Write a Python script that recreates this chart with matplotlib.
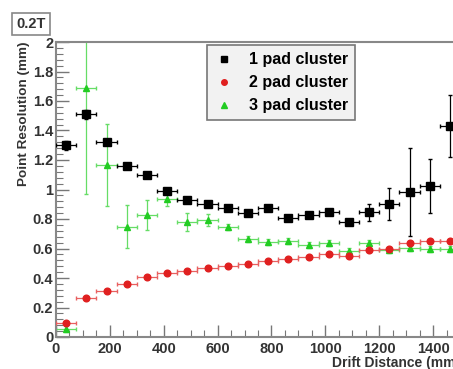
import numpy as np
from matplotlib import pyplot as plt
from matplotlib.ticker import MultipleLocator
from matplotlib.lines import Line2D

plt.rcParams['font.family'] = ['Liberation Sans', 'DejaVu Sans']

# bin centres (mm)
drift = np.arange(37.5, 1500, 75.0)

one_pad = [1.30, 1.51, 1.32, 1.16, 1.10, 0.99, 0.93, 0.90, 0.877, 0.843,
           0.877, 0.807, 0.825, 0.845, 0.78, 0.845, 0.90, 0.983, 1.024, 1.43]
one_pad_err = [0.03, 0.03, 0.02, 0.02, 0.02, 0.02, 0.02, 0.02, 0.02, 0.02,
               0.02, 0.02, 0.02, 0.02, 0.02, 0.06, 0.11, 0.30, 0.18, 0.21]

two_pad = [0.093, 0.262, 0.314, 0.357, 0.409, 0.434, 0.45, 0.47, 0.48, 0.497,
           0.515, 0.527, 0.542, 0.56, 0.551, 0.59, 0.594, 0.635, 0.649, 0.651]
two_pad_err = [0.01] * 20

three_pad = [0.052, 1.69, 1.166, 0.748, 0.827, 0.936, 0.778, 0.795, 0.748, 0.667,
             0.646, 0.653, 0.624, 0.637, 0.583, 0.637, 0.588, 0.605, 0.597, 0.599]
three_pad_err = [0.02, 0.72, 0.28, 0.145, 0.10, 0.05, 0.06, 0.04, 0.02, 0.02,
                 0.02, 0.02, 0.02, 0.02, 0.02, 0.02, 0.02, 0.02, 0.02, 0.02]

W, H = 453, 369
fig = plt.figure(figsize=(W / 100, H / 100), dpi=100)
ax = fig.add_axes([56 / W, 32 / H, (460 - 56) / W, (337 - 42) / H])

ax.errorbar(drift, one_pad, yerr=one_pad_err, xerr=37.5, fmt='s', color='black',
            ms=6, elinewidth=0.9, capsize=1.5, zorder=4)
ax.errorbar(drift, two_pad, yerr=two_pad_err, xerr=37.5, fmt='o', color='#e02020',
            ecolor='#e86060', ms=4.8, elinewidth=0.9, capsize=1.5, zorder=3)
ax.errorbar(drift, three_pad, yerr=three_pad_err, xerr=37.5, fmt='^', color='#22cc22',
            ecolor='#66dd66', ms=5, elinewidth=0.9, capsize=1.5, zorder=2)

ax.set_xlim(0, 1500)
ax.set_ylim(0, 2)
ax.xaxis.set_major_locator(MultipleLocator(200))
ax.xaxis.set_minor_locator(MultipleLocator(50))
ax.yaxis.set_minor_locator(MultipleLocator(0.04))
ax.set_yticks(np.arange(0, 2.01, 0.2))
ax.set_yticklabels(['0', '0.2', '0.4', '0.6', '0.8', '1', '1.2', '1.4', '1.6', '1.8', '2'])

ax.tick_params(which='both', direction='in', color='#777777', labelcolor='#333333',
               labelsize=10.5, top=False, right=False)
ax.tick_params(which='major', length=9, width=1)
ax.tick_params(which='minor', length=5, width=0.8)
ax.tick_params(axis='y', pad=2)
for lab in ax.get_xticklabels() + ax.get_yticklabels():
    lab.set_fontweight('bold')

for side in ['left', 'bottom', 'top']:
    ax.spines[side].set_color('#888888')
    ax.spines[side].set_linewidth(1.5)
ax.spines['right'].set_visible(False)

ax.set_ylabel('Point Resolution (mm)', fontsize=9.7, fontweight='bold', color='#333333',
              loc='top')
ax.yaxis.set_label_coords(-0.065, 1.0)
ax.set_xlabel('Drift Distance (mm)', fontsize=10, fontweight='bold', color='#333333',
              loc='right')
ax.xaxis.set_label_coords(1.0, -0.065)

handles = [Line2D([], [], ls='', marker='s', color='black', ms=4.5),
           Line2D([], [], ls='', marker='o', color='#e02020', ms=4),
           Line2D([], [], ls='', marker='^', color='#22cc22', ms=4.5)]
labels = ['1 pad cluster', '2 pad cluster', '3 pad cluster']
leg = ax.legend(handles, labels, loc='upper left', bbox_to_anchor=(0.373, 0.99),
                prop={'weight': 'bold', 'size': 11.5}, fancybox=False,
                edgecolor='#777777', facecolor='#f2f2f2', framealpha=1,
                handletextpad=0.9, borderpad=0.45, labelspacing=0.5,
                handlelength=1.3, borderaxespad=0)
leg.get_frame().set_linewidth(1.2)

fig.text(31 / W, 1 - 24 / H, '0.2T', ha='center', va='center', fontsize=10.5,
         fontweight='bold', color='#333333',
         bbox=dict(boxstyle='square,pad=0.3', fc='white', ec='#888888', lw=1.2))

plt.savefig('out.png', dpi=100)
plt.close()
